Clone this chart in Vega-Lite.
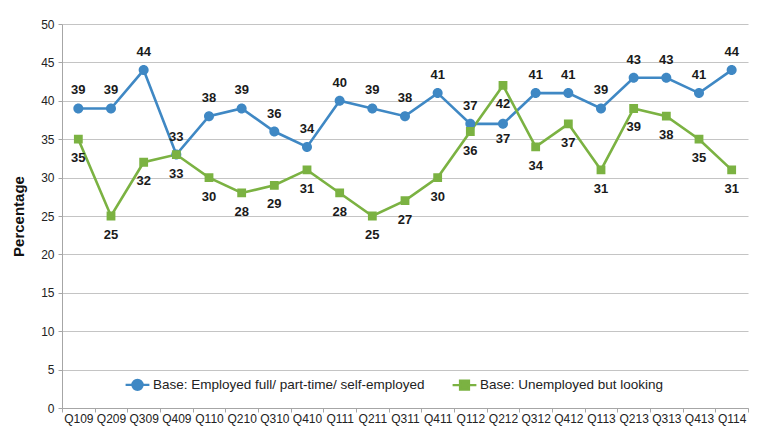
{
  "$schema": "https://vega.github.io/schema/vega-lite/v6.json",
  "autosize": "none",
  "width": 686,
  "height": 384,
  "padding": {"left": 62, "top": 24, "right": 17, "bottom": 20},
  "background": "white",
  "config": {
    "font": "Liberation Sans",
    "view": {"stroke": null},
    "axis": {"labelFont": "Liberation Sans", "labelColor": "#222222", "labelFontSize": 12, "domainColor": "#a6a6a6", "tickColor": "#a6a6a6", "gridColor": "#c4c4c4", "gridWidth": 1.2}
  },
  "data": {
    "values": [
      {"quarter": "Q109", "series": "Base: Employed full/ part-time/ self-employed", "value": 39},
      {"quarter": "Q209", "series": "Base: Employed full/ part-time/ self-employed", "value": 39},
      {"quarter": "Q309", "series": "Base: Employed full/ part-time/ self-employed", "value": 44},
      {"quarter": "Q409", "series": "Base: Employed full/ part-time/ self-employed", "value": 33},
      {"quarter": "Q110", "series": "Base: Employed full/ part-time/ self-employed", "value": 38},
      {"quarter": "Q210", "series": "Base: Employed full/ part-time/ self-employed", "value": 39},
      {"quarter": "Q310", "series": "Base: Employed full/ part-time/ self-employed", "value": 36},
      {"quarter": "Q410", "series": "Base: Employed full/ part-time/ self-employed", "value": 34},
      {"quarter": "Q111", "series": "Base: Employed full/ part-time/ self-employed", "value": 40},
      {"quarter": "Q211", "series": "Base: Employed full/ part-time/ self-employed", "value": 39},
      {"quarter": "Q311", "series": "Base: Employed full/ part-time/ self-employed", "value": 38},
      {"quarter": "Q411", "series": "Base: Employed full/ part-time/ self-employed", "value": 41},
      {"quarter": "Q112", "series": "Base: Employed full/ part-time/ self-employed", "value": 37},
      {"quarter": "Q212", "series": "Base: Employed full/ part-time/ self-employed", "value": 37},
      {"quarter": "Q312", "series": "Base: Employed full/ part-time/ self-employed", "value": 41},
      {"quarter": "Q412", "series": "Base: Employed full/ part-time/ self-employed", "value": 41},
      {"quarter": "Q113", "series": "Base: Employed full/ part-time/ self-employed", "value": 39},
      {"quarter": "Q213", "series": "Base: Employed full/ part-time/ self-employed", "value": 43},
      {"quarter": "Q313", "series": "Base: Employed full/ part-time/ self-employed", "value": 43},
      {"quarter": "Q413", "series": "Base: Employed full/ part-time/ self-employed", "value": 41},
      {"quarter": "Q114", "series": "Base: Employed full/ part-time/ self-employed", "value": 44},
      {"quarter": "Q109", "series": "Base: Unemployed but looking", "value": 35},
      {"quarter": "Q209", "series": "Base: Unemployed but looking", "value": 25},
      {"quarter": "Q309", "series": "Base: Unemployed but looking", "value": 32},
      {"quarter": "Q409", "series": "Base: Unemployed but looking", "value": 33},
      {"quarter": "Q110", "series": "Base: Unemployed but looking", "value": 30},
      {"quarter": "Q210", "series": "Base: Unemployed but looking", "value": 28},
      {"quarter": "Q310", "series": "Base: Unemployed but looking", "value": 29},
      {"quarter": "Q410", "series": "Base: Unemployed but looking", "value": 31},
      {"quarter": "Q111", "series": "Base: Unemployed but looking", "value": 28},
      {"quarter": "Q211", "series": "Base: Unemployed but looking", "value": 25},
      {"quarter": "Q311", "series": "Base: Unemployed but looking", "value": 27},
      {"quarter": "Q411", "series": "Base: Unemployed but looking", "value": 30},
      {"quarter": "Q112", "series": "Base: Unemployed but looking", "value": 36},
      {"quarter": "Q212", "series": "Base: Unemployed but looking", "value": 42},
      {"quarter": "Q312", "series": "Base: Unemployed but looking", "value": 34},
      {"quarter": "Q412", "series": "Base: Unemployed but looking", "value": 37},
      {"quarter": "Q113", "series": "Base: Unemployed but looking", "value": 31},
      {"quarter": "Q213", "series": "Base: Unemployed but looking", "value": 39},
      {"quarter": "Q313", "series": "Base: Unemployed but looking", "value": 38},
      {"quarter": "Q413", "series": "Base: Unemployed but looking", "value": 35},
      {"quarter": "Q114", "series": "Base: Unemployed but looking", "value": 31}
    ]
  },
  "encoding": {
    "x": {
      "field": "quarter", "type": "ordinal", "title": null,
      "scale": {"type": "band", "paddingInner": 0, "paddingOuter": 0,
        "domain": ["Q109","Q209","Q309","Q409","Q110","Q210","Q310","Q410","Q111","Q211","Q311","Q411","Q112","Q212","Q312","Q412","Q113","Q213","Q313","Q413","Q114"]},
      "axis": {"labelAngle": 0, "tickBand": "extent", "tickSize": 4, "labelPadding": 1, "grid": false}
    },
    "y": {
      "field": "value", "type": "quantitative",
      "scale": {"domain": [0, 50], "nice": false},
      "axis": {"values": [0,5,10,15,20,25,30,35,40,45,50], "title": "Percentage", "titleFontSize": 15, "titleFontWeight": "bold", "titleColor": "#111111", "titlePadding": 14, "tickSize": 4, "labelPadding": 4, "domain": true}
    }
  },
  "layer": [
    {
      "mark": {"type": "line", "strokeWidth": 2.6},
      "encoding": {
        "color": {
          "field": "series", "type": "nominal",
          "scale": {"domain": ["Base: Employed full/ part-time/ self-employed", "Base: Unemployed but looking"], "range": ["#3f88c4", "#7bb242"]},
          "legend": {
            "title": null, "orient": "none", "direction": "horizontal", "legendX": 62, "legendY": 347,
            "labelFont": "Liberation Sans", "labelFontSize": 13.5, "labelColor": "#222222", "labelLimit": 400, "symbolSize": 567, "columnPadding": 22, "labelOffset": 2,
            "encode": {"symbols": {"update": {"stroke": {"scale": "color", "field": "value"}, "strokeWidth": {"value": 2.4}}}}
          }
        }
      }
    },
    {
      "mark": {"type": "point", "filled": true, "opacity": 1, "size": 567, "strokeWidth": 0},
      "encoding": {
        "color": {"field": "series", "type": "nominal"},
        "shape": {
          "field": "series", "type": "nominal",
          "scale": {"domain": ["Base: Employed full/ part-time/ self-employed", "Base: Unemployed but looking"],
            "range": ["M-1,0H1M0.42,0A0.42,0.42 0 1 1 -0.42,0A0.42,0.42 0 1 1 0.42,0Z", "M-1,0H1M-0.37,-0.37H0.37V0.37H-0.37Z"]}
        }
      }
    },
    {
      "transform": [{"filter": "datum.series === 'Base: Employed full/ part-time/ self-employed' && datum.quarter !== 'Q212'"}],
      "mark": {"type": "text", "dy": -18, "fontWeight": "bold", "fontSize": 13},
      "encoding": {"text": {"field": "value", "type": "quantitative"}, "color": {"value": "#1a1a1a"}}
    },
    {
      "transform": [{"filter": "datum.series === 'Base: Employed full/ part-time/ self-employed' && datum.quarter === 'Q212'"}],
      "mark": {"type": "text", "dy": 15, "fontWeight": "bold", "fontSize": 13},
      "encoding": {"text": {"field": "value", "type": "quantitative"}, "color": {"value": "#1a1a1a"}}
    },
    {
      "transform": [{"filter": "datum.series === 'Base: Unemployed but looking'"}],
      "mark": {"type": "text", "dy": 19, "fontWeight": "bold", "fontSize": 13},
      "encoding": {"text": {"field": "value", "type": "quantitative"}, "color": {"value": "#1a1a1a"}}
    }
  ]
}
